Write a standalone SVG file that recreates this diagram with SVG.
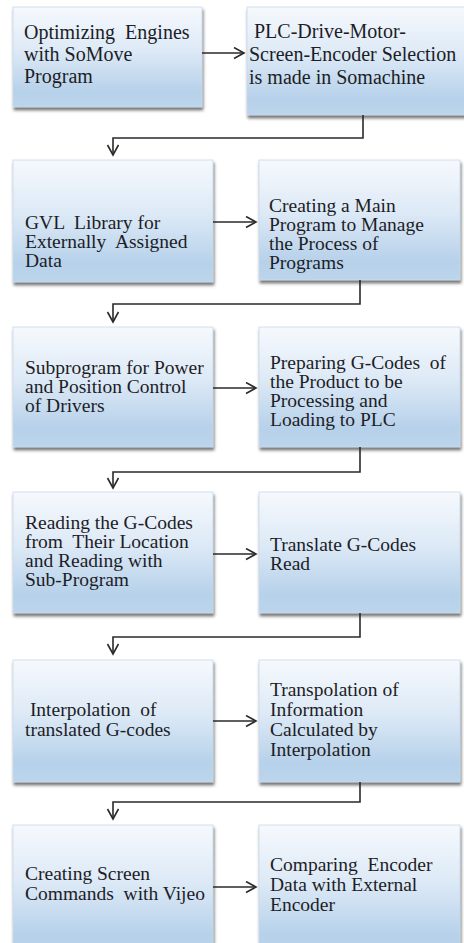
<svg xmlns="http://www.w3.org/2000/svg" width="464" height="943" viewBox="0 0 464 943">
  <style>
    .box { fill: url(#boxFill); stroke: #c9d9ea; stroke-width: 0.8; filter: url(#shadow); }
    text { font-family: 'Liberation Serif', Tinos, 'Times New Roman', 'DejaVu Serif', serif; font-size: 19.5px; fill: #1d1d26; white-space: pre; }
    .big { font-size: 20px; }
    .wire { fill: none; stroke: #2a2a2a; stroke-width: 1.6; }
  </style>
  <defs>
    <linearGradient id="boxFill" x1="0" y1="0" x2="0" y2="1">
      <stop offset="0" stop-color="#f6f9fd"/>
      <stop offset="0.45" stop-color="#dce9f6"/>
      <stop offset="0.85" stop-color="#b6d1ea"/>
      <stop offset="1" stop-color="#bcd5ec"/>
    </linearGradient>
    <filter id="shadow" x="-5%" y="-5%" width="112%" height="120%">
      <feDropShadow dx="1" dy="3" stdDeviation="1.4" flood-color="#4a4a4a" flood-opacity="0.75"/>
    </filter>
    <marker id="chev" markerUnits="userSpaceOnUse" markerWidth="14" markerHeight="14" refX="11" refY="6" orient="auto">
      <path d="M1,0.5 L11,6 L1,11.5" fill="none" stroke="#2a2a2a" stroke-width="1.6"/>
    </marker>
  </defs>

  <!-- row 1 -->
  <g id="n1">
    <rect class="box" x="13" y="7" width="189" height="100"/>
    <text class="big"><tspan x="24" y="39">Optimizing  Engines</tspan><tspan x="24" y="61">with SoMove</tspan><tspan x="24" y="83">Program</tspan></text>
  </g>
  <g id="n2">
    <rect class="box" x="247" y="7" width="222" height="108"/>
    <text class="big"><tspan x="249" y="38"> PLC-Drive-Motor-</tspan><tspan x="249" y="61">Screen-Encoder Selection</tspan><tspan x="249" y="84">is made in Somachine</tspan></text>
  </g>

  <!-- row 2 -->
  <g id="n3">
    <rect class="box" x="13" y="160" width="200" height="122"/>
    <text><tspan x="25" y="229">GVL  Library for</tspan><tspan x="25" y="248">Externally  Assigned</tspan><tspan x="25" y="267">Data</tspan></text>
  </g>
  <g id="n4">
    <rect class="box" x="259" y="160" width="201" height="120"/>
    <text><tspan x="269" y="212">Creating a Main</tspan><tspan x="269" y="231">Program to Manage</tspan><tspan x="269" y="250">the Process of</tspan><tspan x="269" y="269">Programs</tspan></text>
  </g>

  <!-- row 3 -->
  <g id="n5">
    <rect class="box" x="13" y="327" width="200" height="120"/>
    <text><tspan x="25" y="374">Subprogram for Power</tspan><tspan x="25" y="393">and Position Control</tspan><tspan x="25" y="412">of Drivers</tspan></text>
  </g>
  <g id="n6">
    <rect class="box" x="259" y="327" width="201" height="120"/>
    <text><tspan x="270" y="369">Preparing G-Codes  of</tspan><tspan x="270" y="388">the Product to be</tspan><tspan x="270" y="407">Processing and</tspan><tspan x="270" y="426">Loading to PLC</tspan></text>
  </g>

  <!-- row 4 -->
  <g id="n7">
    <rect class="box" x="13" y="492" width="200" height="121"/>
    <text><tspan x="25" y="529">Reading the G-Codes</tspan><tspan x="25" y="548">from  Their Location</tspan><tspan x="25" y="567">and Reading with</tspan><tspan x="25" y="586">Sub-Program</tspan></text>
  </g>
  <g id="n8">
    <rect class="box" x="259" y="492" width="201" height="121"/>
    <text><tspan x="270" y="551">Translate G-Codes</tspan><tspan x="270" y="570">Read</tspan></text>
  </g>

  <!-- row 5 -->
  <g id="n9">
    <rect class="box" x="13" y="660" width="200" height="122"/>
    <text><tspan x="25" y="716"> Interpolation  of</tspan><tspan x="25" y="736">translated G-codes</tspan></text>
  </g>
  <g id="n10">
    <rect class="box" x="259" y="660" width="201" height="122"/>
    <text><tspan x="270" y="696">Transpolation of</tspan><tspan x="270" y="716">Information</tspan><tspan x="270" y="736">Calculated by</tspan><tspan x="270" y="756">Interpolation</tspan></text>
  </g>

  <!-- row 6 -->
  <g id="n11">
    <rect class="box" x="13" y="825" width="200" height="130"/>
    <text><tspan x="25" y="880">Creating Screen</tspan><tspan x="25" y="900">Commands  with Vijeo</tspan></text>
  </g>
  <g id="n12">
    <rect class="box" x="259" y="825" width="201" height="130"/>
    <text><tspan x="270" y="871">Comparing  Encoder</tspan><tspan x="270" y="891">Data with External</tspan><tspan x="270" y="911">Encoder</tspan></text>
  </g>

  <!-- connectors -->
  <g id="connectors">
    <path class="wire" d="M202,53 H244" marker-end="url(#chev)"/>
    <path class="wire" d="M363,115 V138 H113 V155" marker-end="url(#chev)"/>
    <path class="wire" d="M213,222 H256" marker-end="url(#chev)"/>
    <path class="wire" d="M360,280 V304 H113 V322" marker-end="url(#chev)"/>
    <path class="wire" d="M213,388 H256" marker-end="url(#chev)"/>
    <path class="wire" d="M360,447 V472 H113 V488" marker-end="url(#chev)"/>
    <path class="wire" d="M213,554 H256" marker-end="url(#chev)"/>
    <path class="wire" d="M360,613 V637 H113 V654" marker-end="url(#chev)"/>
    <path class="wire" d="M213,721 H256" marker-end="url(#chev)"/>
    <path class="wire" d="M360,782 V802 H113 V819" marker-end="url(#chev)"/>
    <path class="wire" d="M213,887 H256" marker-end="url(#chev)"/>
  </g>
</svg>
